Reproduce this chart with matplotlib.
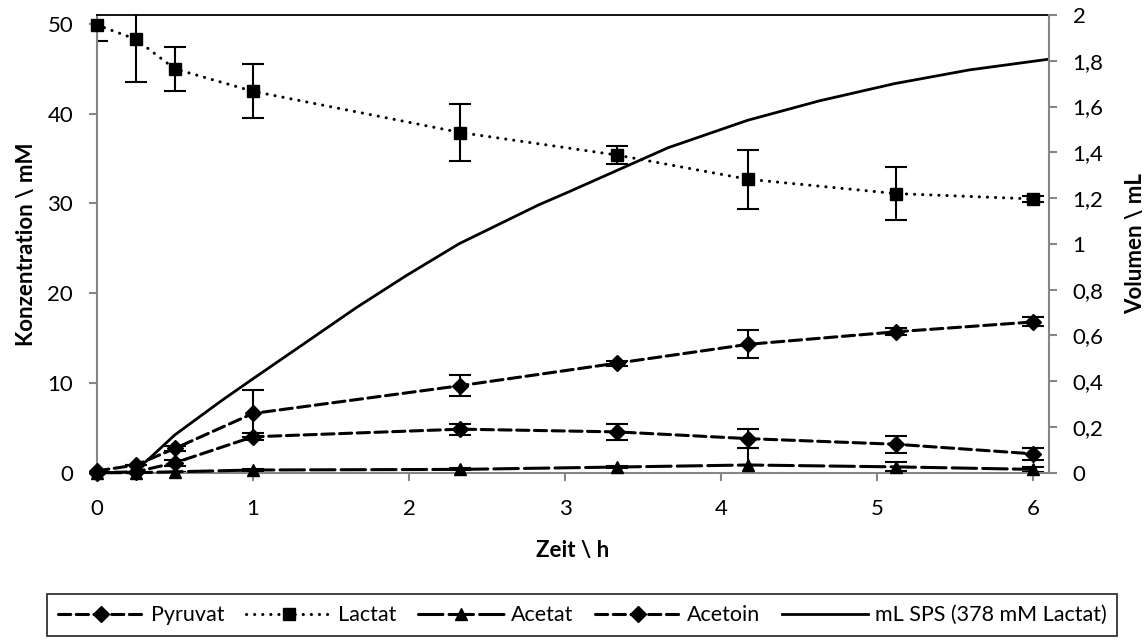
#!/usr/bin/env python3
"""
Konzentrationsverlauf mit SPS-Zugabe (Sekundaerachse)
"""

import matplotlib.pyplot as plt
from matplotlib.ticker import FuncFormatter

plt.rcParams['font.family'] = ['Lato', 'DejaVu Sans']

# Messzeitpunkte in h
zeit = [0, 0.25, 0.5, 1, 2.33, 3.33, 4.17, 5.12, 6]

pyruvat = [0.2, 0.85, 2.7, 6.6, 9.7, 12.2, 14.3, 15.7, 16.8]
pyruvat_err = [0, 0, 0.3, 2.6, 1.2, 0.3, 1.55, 0.4, 0.5]

lactat = [49.9, 48.3, 45.0, 42.5, 37.9, 35.4, 32.7, 31.1, 30.5]
lactat_err = [1.8, 4.8, 2.45, 3.0, 3.15, 1.05, 3.3, 2.95, 0.3]

acetat = [0, 0, 0.1, 0.3, 0.37, 0.63, 0.86, 0.65, 0.37]
acetat_err = [0, 0, 0, 0.1, 0.1, 0.15, 1.85, 0.5, 0.3]

acetoin = [0, 0.1, 1.1, 4.0, 4.85, 4.55, 3.8, 3.17, 2.1]
acetoin_err = [0, 0, 0.3, 0.4, 0.6, 0.9, 1.05, 0.93, 0.65]

# zugegebenes Volumen SPS (mL)
sps_zeit = [0, 0.2, 0.25, 0.35, 0.5, 0.66, 0.8, 1.0, 1.32, 1.66, 1.98, 2.32,
            2.62, 2.83, 3.02, 3.33, 3.66, 4.17, 4.63, 5.11, 5.59, 6.1]
sps_ml = [0, 0, 0.01, 0.07, 0.165, 0.245, 0.315, 0.41, 0.56, 0.72, 0.86, 1.0,
          1.10, 1.17, 1.226, 1.32, 1.42, 1.54, 1.625, 1.70, 1.76, 1.807]

GRAU = '#868686'
FS = 16

fig = plt.figure(figsize=(11.46, 6.4), dpi=100)
ax = fig.add_axes([0.0844, 0.2614, 0.8310, 0.7152])
ax2 = ax.twinx()

kurz = (4, 1.8)
lang = (8, 2)
punkt = (0.05, 2.6)

serien = [
    ('Pyruvat', pyruvat, pyruvat_err, 'D', kurz),
    ('Lactat', lactat, lactat_err, 's', punkt),
    ('Acetat', acetat, acetat_err, '^', lang),
    ('Acetoin', acetoin, acetoin_err, 'D', kurz),
]

handles = []
for name, werte, fehler, marker, dash in serien:
    ax.errorbar(zeit, werte, yerr=fehler, fmt='none', ecolor='black',
                elinewidth=1.5, capsize=8, capthick=1.5, zorder=2)
    ms = 8 if marker == 'D' else 9
    line, = ax.plot(zeit, werte, color='black', linewidth=2.2, marker=marker,
                    markersize=ms, dashes=dash, dash_capstyle='round',
                    label=name, clip_on=False, zorder=3)
    handles.append(line)

sps, = ax2.plot(sps_zeit, sps_ml, color='black', linewidth=2.0,
                label='mL SPS (378 mM Lactat)')
handles.append(sps)

ax.set_xlim(0, 6.1)
ax.set_ylim(0, 51)
ax2.set_ylim(0, 2)
ax.set_xticks(range(0, 7))
ax.set_yticks(range(0, 51, 10))
ax2.set_yticks([i * 0.2 for i in range(11)])
ax2.yaxis.set_major_formatter(FuncFormatter(lambda v, p: f'{v:.1f}'.rstrip('0').rstrip('.').replace('.', ',')))

# Achsenlinien wie im Original: oben schwarz, sonst grau
for s in ['left', 'bottom']:
    ax.spines[s].set_color(GRAU)
    ax.spines[s].set_linewidth(1.5)
ax.spines['top'].set_color('black')
ax.spines['top'].set_linewidth(1.3)
ax.spines['right'].set_visible(False)
for s in ['left', 'bottom', 'top']:
    ax2.spines[s].set_visible(False)
ax2.spines['right'].set_color(GRAU)
ax2.spines['right'].set_linewidth(1.5)

for a in (ax, ax2):
    a.tick_params(axis='y', direction='out', length=6, width=1.5, color=GRAU,
                  labelsize=FS, pad=11)
ax.tick_params(axis='x', direction='out', length=6, width=1.5, color=GRAU,
               labelsize=FS, pad=13)

ax.set_xlabel('Zeit \\ h', fontsize=FS, fontweight='bold')
ax.xaxis.set_label_coords(0.5, -0.147)
ax.set_ylabel('Konzentration \\ mM', fontsize=FS, fontweight='bold', va='center')
ax.yaxis.set_label_coords(-0.074, 0.5)
ax2.set_ylabel('Volumen \\ mL', fontsize=FS, fontweight='bold', va='center')
ax2.yaxis.set_label_coords(1.091, 0.5)

leg = fig.legend(handles=handles, loc='center', bbox_to_anchor=(0.508, 0.039),
                 ncol=5, fontsize=15.5, frameon=True, fancybox=False,
                 edgecolor='black', handlelength=4.0, columnspacing=1.0,
                 handletextpad=0.3, borderpad=0.5)
leg.get_frame().set_linewidth(1.3)

plt.savefig('out.png', dpi=100)
plt.close()
